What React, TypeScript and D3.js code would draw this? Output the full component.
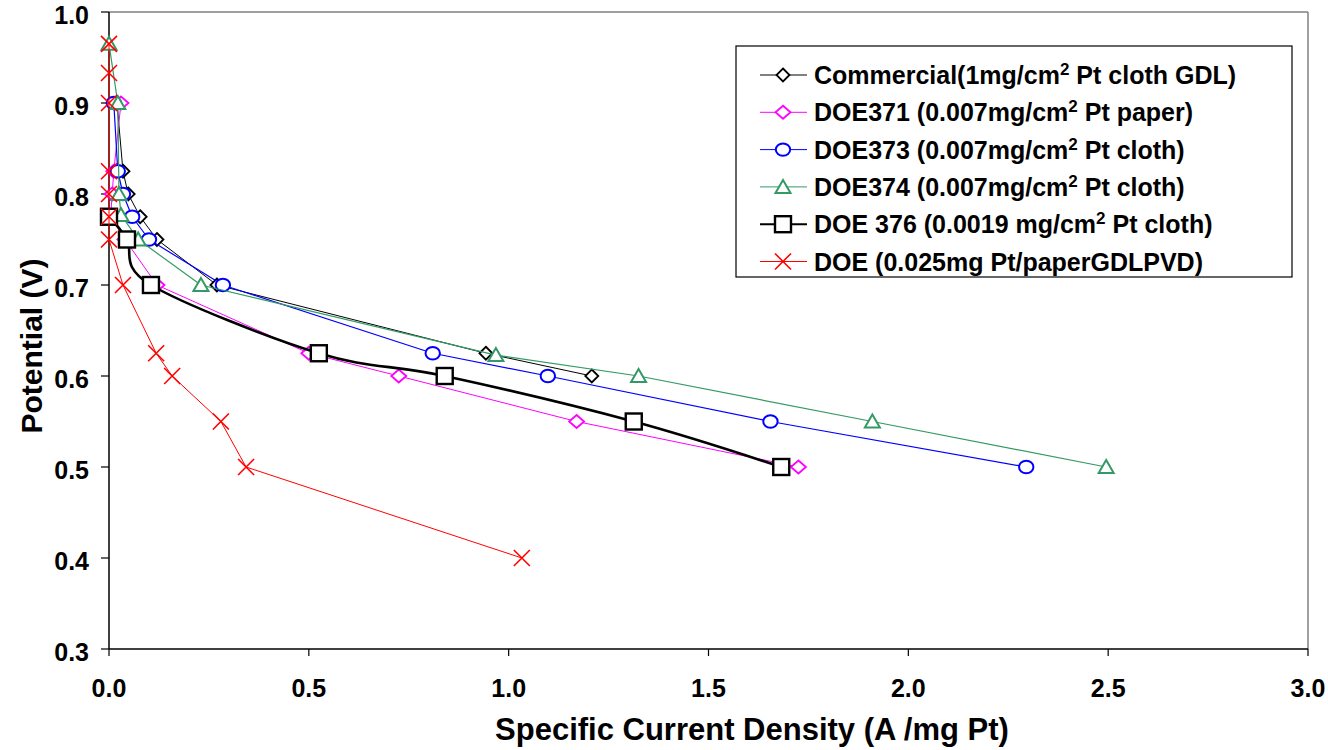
import * as d3 from "d3";

// Series values (x = A/mg Pt, y = V)
const commercialX = [0.02, 0.035, 0.048, 0.078, 0.12, 0.27, 0.943, 1.208];
const commercialY = [0.9, 0.825, 0.8, 0.775, 0.75, 0.7, 0.625, 0.6];

const doe371X = [0.03, 0.012, 0.008, 0.004, 0.04, 0.12, 0.5, 0.725, 1.17, 1.725];
const doe371Y = [0.9, 0.825, 0.8, 0.775, 0.75, 0.7, 0.625, 0.6, 0.55, 0.5];

const doe373X = [0.012, 0.022, 0.035, 0.058, 0.1, 0.285, 0.81, 1.098, 1.655, 2.295];
const doe373Y = [0.9, 0.825, 0.8, 0.775, 0.75, 0.7, 0.625, 0.6, 0.55, 0.5];

const doe374X = [0, 0.022, 0.025, 0.03, 0.073, 0.23, 0.968, 1.325, 1.91, 2.495];
const doe374Y = [0.965, 0.9, 0.8, 0.777, 0.75, 0.7, 0.623, 0.6, 0.55, 0.5];

const doe376X = [0, 0.045, 0.105, 0.525, 0.84, 1.313, 1.682];
const doe376Y = [0.775, 0.75, 0.7, 0.625, 0.6, 0.55, 0.5];

const pvdX = [0, 0, 0, 0, 0, 0, 0, 0.035, 0.118, 0.158, 0.28, 0.343, 1.033];
const pvdY = [0.965, 0.933, 0.9, 0.825, 0.8, 0.775, 0.75, 0.7, 0.625, 0.6, 0.55, 0.5, 0.4];

const xTicks = [0, 0.5, 1, 1.5, 2, 2.5, 3];
const yTicks = [0.3, 0.4, 0.5, 0.6, 0.7, 0.8, 0.9, 1.0];

type Marker = "diamond" | "diamondWide" | "circle" | "triangle" | "square" | "cross";

const series = [
  { name: "Commercial(1mg/cm", sup: "2", rest: " Pt cloth GDL)", xs: commercialX, ys: commercialY, color: "#000000", width: 1, marker: "diamond" as Marker, smooth: false },
  { name: "DOE371 (0.007mg/cm", sup: "2", rest: " Pt paper)", xs: doe371X, ys: doe371Y, color: "#ff00ff", width: 1, marker: "diamondWide" as Marker, smooth: false },
  { name: "DOE373 (0.007mg/cm", sup: "2", rest: " Pt cloth)", xs: doe373X, ys: doe373Y, color: "#0000ff", width: 1.2, marker: "circle" as Marker, smooth: false },
  { name: "DOE374 (0.007mg/cm", sup: "2", rest: " Pt cloth)", xs: doe374X, ys: doe374Y, color: "#339966", width: 1.2, marker: "triangle" as Marker, smooth: false },
  { name: "DOE 376 (0.0019 mg/cm", sup: "2", rest: " Pt cloth)", xs: doe376X, ys: doe376Y, color: "#000000", width: 2.6, marker: "square" as Marker, smooth: true },
  { name: "DOE (0.025mg Pt/paperGDLPVD)", sup: "", rest: "", xs: pvdX, ys: pvdY, color: "#ff0000", width: 1, marker: "cross" as Marker, smooth: false },
];

const W = 1328;
const H = 750;
const left = 109;
const right = 1308;
const top = 12;
const bottom = 649;

const x = d3.scaleLinear().domain([0, 3]).range([left, right]);
const y = d3.scaleLinear().domain([0.3, 1.0]).range([bottom, top]);

function MarkerShape({ kind, cx, cy, color }: { kind: Marker; cx: number; cy: number; color: string }) {
  switch (kind) {
    case "diamond":
      return <path d={`M${cx},${cy - 6.5}L${cx + 6.5},${cy}L${cx},${cy + 6.5}L${cx - 6.5},${cy}Z`} fill="#fff" stroke={color} strokeWidth={1.8} />;
    case "diamondWide":
      return <path d={`M${cx},${cy - 6.5}L${cx + 7.5},${cy}L${cx},${cy + 6.5}L${cx - 7.5},${cy}Z`} fill="#fff" stroke={color} strokeWidth={1.8} />;
    case "circle":
      return <ellipse cx={cx} cy={cy} rx={7.2} ry={6.2} fill="#fff" stroke={color} strokeWidth={2} />;
    case "triangle":
      return <path d={`M${cx},${cy - 7}L${cx + 7.5},${cy + 6}L${cx - 7.5},${cy + 6}Z`} fill="#fff" stroke={color} strokeWidth={2} />;
    case "square":
      return <rect x={cx - 8} y={cy - 8} width={16} height={16} fill="#fff" stroke={color} strokeWidth={2.4} />;
    case "cross":
      return <path d={`M${cx - 8},${cy - 8}L${cx + 8},${cy + 8}M${cx - 8},${cy + 8}L${cx + 8},${cy - 8}`} fill="none" stroke={color} strokeWidth={1.6} />;
  }
}

export default function App() {
  const font = "'Liberation Sans', Arial, sans-serif";
  const legendRowY = (i: number) => 75 + i * 37.3;

  return (
    <svg width={W} height={H} viewBox={`0 0 ${W} ${H}`} style={{ position: "absolute", left: 0, top: 0, background: "#fff" }} fontFamily={font}>
      <rect width={W} height={H} fill="#fff" />

      {/* plot frame */}
      <line x1={left} x2={right} y1={top} y2={top} stroke="#808080" strokeWidth={1.5} />
      <line x1={right} x2={right} y1={top} y2={bottom} stroke="#808080" strokeWidth={1.5} />

      {/* y axis */}
      <line x1={left} x2={left} y1={top} y2={bottom} stroke="#000" strokeWidth={1.5} />
      {yTicks.map((t) => (
        <g key={t}>
          <line x1={left - 8} x2={left} y1={y(t)} y2={y(t)} stroke="#000" strokeWidth={1.2} />
          <text x={89} y={y(t) + 5} textAnchor="end" dominantBaseline="middle" fontSize={25} fontWeight="bold">
            {t.toFixed(1)}
          </text>
        </g>
      ))}

      {/* x axis */}
      <line x1={left} x2={right} y1={bottom} y2={bottom} stroke="#000" strokeWidth={1.5} />
      {xTicks.map((t) => (
        <g key={t}>
          <line x1={x(t)} x2={x(t)} y1={bottom} y2={bottom + 7} stroke="#000" strokeWidth={1.2} />
          <text x={x(t)} y={697} textAnchor="middle" fontSize={25} fontWeight="bold">
            {t.toFixed(1)}
          </text>
        </g>
      ))}

      <text x={752} y={740} textAnchor="middle" fontSize={31} fontWeight="bold">
        Specific Current Density (A /mg Pt)
      </text>
      <text transform={`translate(42,346) rotate(-90)`} textAnchor="middle" fontSize={30} fontWeight="bold">
        Potential (V)
      </text>

      {/* series */}
      {series.map((s) => {
        const pts: [number, number][] = s.xs.map((v, i) => [x(v), y(s.ys[i])]);
        const line = d3.line().curve(s.smooth ? d3.curveCardinal.tension(0) : d3.curveLinear);
        return (
          <g key={s.name}>
            <path d={line(pts) ?? ""} fill="none" stroke={s.color} strokeWidth={s.width} strokeLinejoin="round" />
            {pts.map(([px, py], i) => (
              <MarkerShape key={i} kind={s.marker} cx={px} cy={py} color={s.color} />
            ))}
          </g>
        );
      })}

      {/* legend */}
      <rect x={736} y={46} width={556} height={231} fill="#fff" stroke="#000" strokeWidth={1.2} />
      {series.map((s, i) => (
        <g key={s.name}>
          <line x1={760} x2={807} y1={legendRowY(i)} y2={legendRowY(i)} stroke={s.color} strokeWidth={s.width > 2 ? 2 : 1} />
          <MarkerShape kind={s.marker} cx={783} cy={legendRowY(i)} color={s.color} />
          <text x={814} y={legendRowY(i) + 9} fontSize={25} fontWeight="bold">
            {s.name}
            {s.sup && (
              <tspan fontSize={17} dy={-9}>
                {s.sup}
              </tspan>
            )}
            {s.rest && <tspan dy={s.sup ? 9 : 0}>{s.rest}</tspan>}
          </text>
        </g>
      ))}
    </svg>
  );
}
